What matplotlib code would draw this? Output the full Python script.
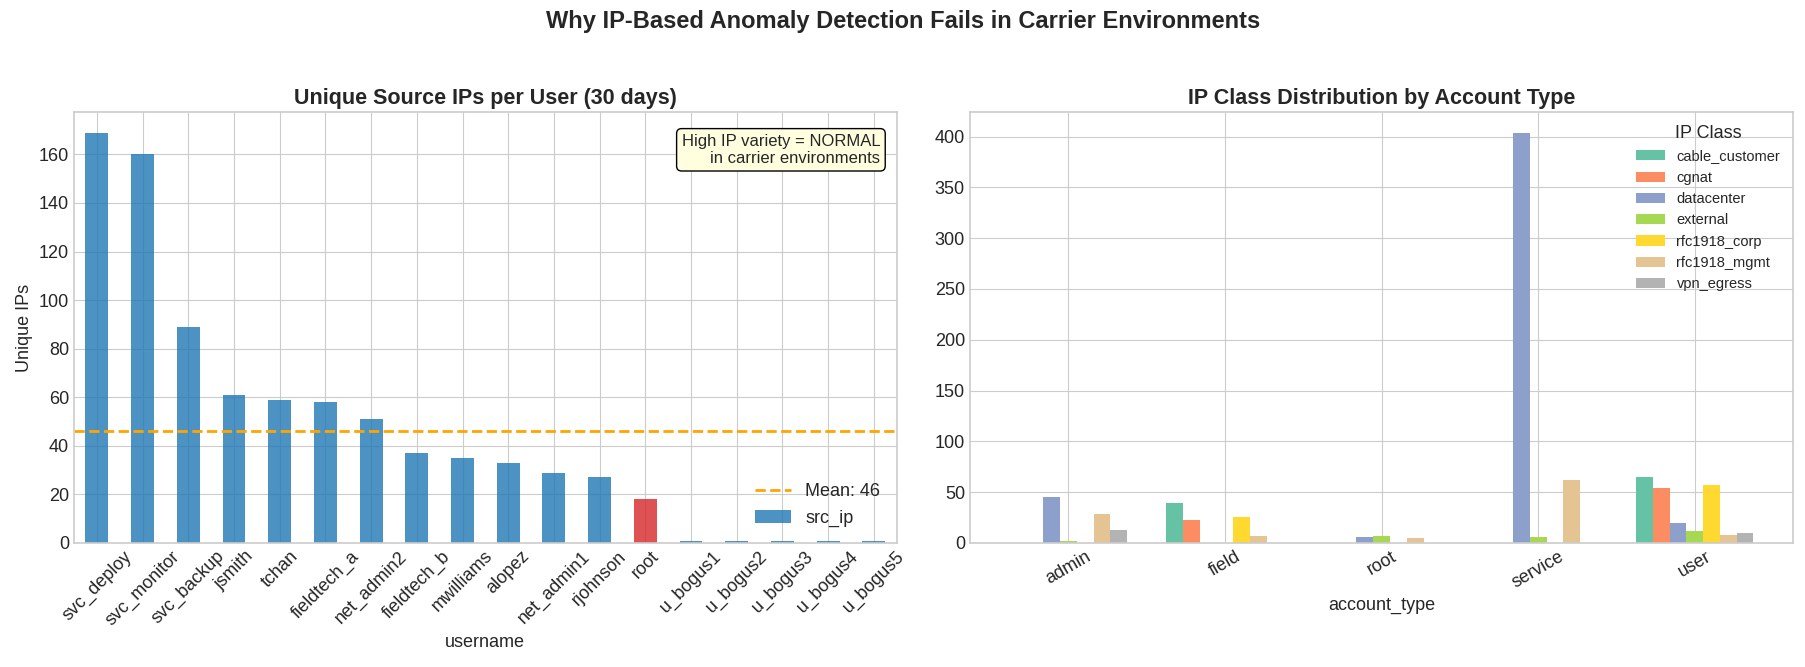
import numpy as np
import matplotlib
matplotlib.use('Agg')
import matplotlib.pyplot as plt

users = ['svc_deploy', 'svc_monitor', 'svc_backup', 'jsmith', 'tchan', 'fieldtech_a',
         'net_admin2', 'fieldtech_b', 'mwilliams', 'alopez', 'net_admin1', 'rjohnson',
         'root', 'u_bogus1', 'u_bogus2', 'u_bogus3', 'u_bogus4', 'u_bogus5']
unique_ips = [169, 160, 89, 61, 59, 58, 51, 37, 35, 33, 29, 27, 18, 1, 1, 1, 1, 1]

account_types = ['admin', 'field', 'root', 'service', 'user']
ip_classes = ['cable_customer', 'cgnat', 'datacenter', 'external',
              'rfc1918_corp', 'rfc1918_mgmt', 'vpn_egress']
# one list per ip class, in account_types order
class_counts = {
    'cable_customer': [0, 39, 0, 0, 65],
    'cgnat':          [0, 23, 0, 0, 54],
    'datacenter':     [45, 0, 6, 404, 20],
    'external':       [2, 0, 7, 6, 12],
    'rfc1918_corp':   [0, 26, 0, 0, 57],
    'rfc1918_mgmt':   [28, 7, 5, 62, 8],
    'vpn_egress':     [13, 0, 0, 0, 10],
}

plt.style.use('seaborn-v0_8-whitegrid')
plt.rcParams['font.family'] = ['Liberation Sans', 'DejaVu Sans']
plt.rcParams['axes.edgecolor'] = '#cccccc'
plt.rcParams['axes.linewidth'] = 1.2

fig, (ax1, ax2) = plt.subplots(1, 2, figsize=(18.06, 6.67), dpi=100)
fig.subplots_adjust(left=0.041, right=0.993, bottom=0.186, top=0.832, wspace=0.09)
p = ax2.get_position()
ax2.set_position([0.537, p.y0, 0.993 - 0.537, p.height])

# left: unique IPs per user
x = np.arange(len(users))
colors = ['#d62728' if u == 'root' else '#1f77b4' for u in users]
ax1.bar(x, unique_ips, width=0.5, color=colors, alpha=0.8, label='src_ip')
mean_ips = np.mean(unique_ips)
ax1.axhline(mean_ips, color='orange', linestyle='--', linewidth=2,
            label=f'Mean: {mean_ips:.0f}')
ax1.set_xlim(-0.5, len(users) - 0.5)
ax1.set_ylim(0, max(unique_ips) * 1.05)
ax1.set_xticks(x)
ax1.set_xticklabels(users, rotation=45, fontsize=13)
ax1.tick_params(axis='y', labelsize=13)
ax1.set_xlabel('username', fontsize=13)
ax1.set_ylabel('Unique IPs', fontsize=13)
ax1.set_title('Unique Source IPs per User (30 days)', fontsize=15.5, fontweight='bold')
ax1.legend(loc='lower right', fontsize=13)
ax1.text(0.98, 0.95, 'High IP variety = NORMAL\nin carrier environments',
         transform=ax1.transAxes, ha='right', va='top', fontsize=12,
         bbox=dict(boxstyle='round', facecolor='lightyellow', edgecolor='black'))

# right: IP class distribution by account type
cols = plt.get_cmap('Set2')(np.linspace(0, 1, len(ip_classes)))
n = len(ip_classes)
group_w = 0.75
bw = group_w / n
xa = np.arange(len(account_types))
for i, cls in enumerate(ip_classes):
    ax2.bar(xa - group_w / 2 + bw * (i + 0.5), class_counts[cls], width=bw,
            color=cols[i], label=cls)
ax2.set_xlim(-0.63, len(account_types) - 1 + 0.63)
ax2.set_ylim(0, 404 * 1.05)
ax2.set_xticks(xa)
ax2.set_xticklabels(account_types, rotation=30, fontsize=13)
ax2.tick_params(axis='y', labelsize=13)
ax2.set_xlabel('account_type', fontsize=13)
ax2.set_title('IP Class Distribution by Account Type', fontsize=15.5, fontweight='bold')
ax2.legend(title='IP Class', loc='upper right', fontsize=10.5, title_fontsize=13)

fig.suptitle('Why IP-Based Anomaly Detection Fails in Carrier Environments',
             fontsize=17, fontweight='bold', y=0.985)

fig.savefig('out.png', dpi=100)
